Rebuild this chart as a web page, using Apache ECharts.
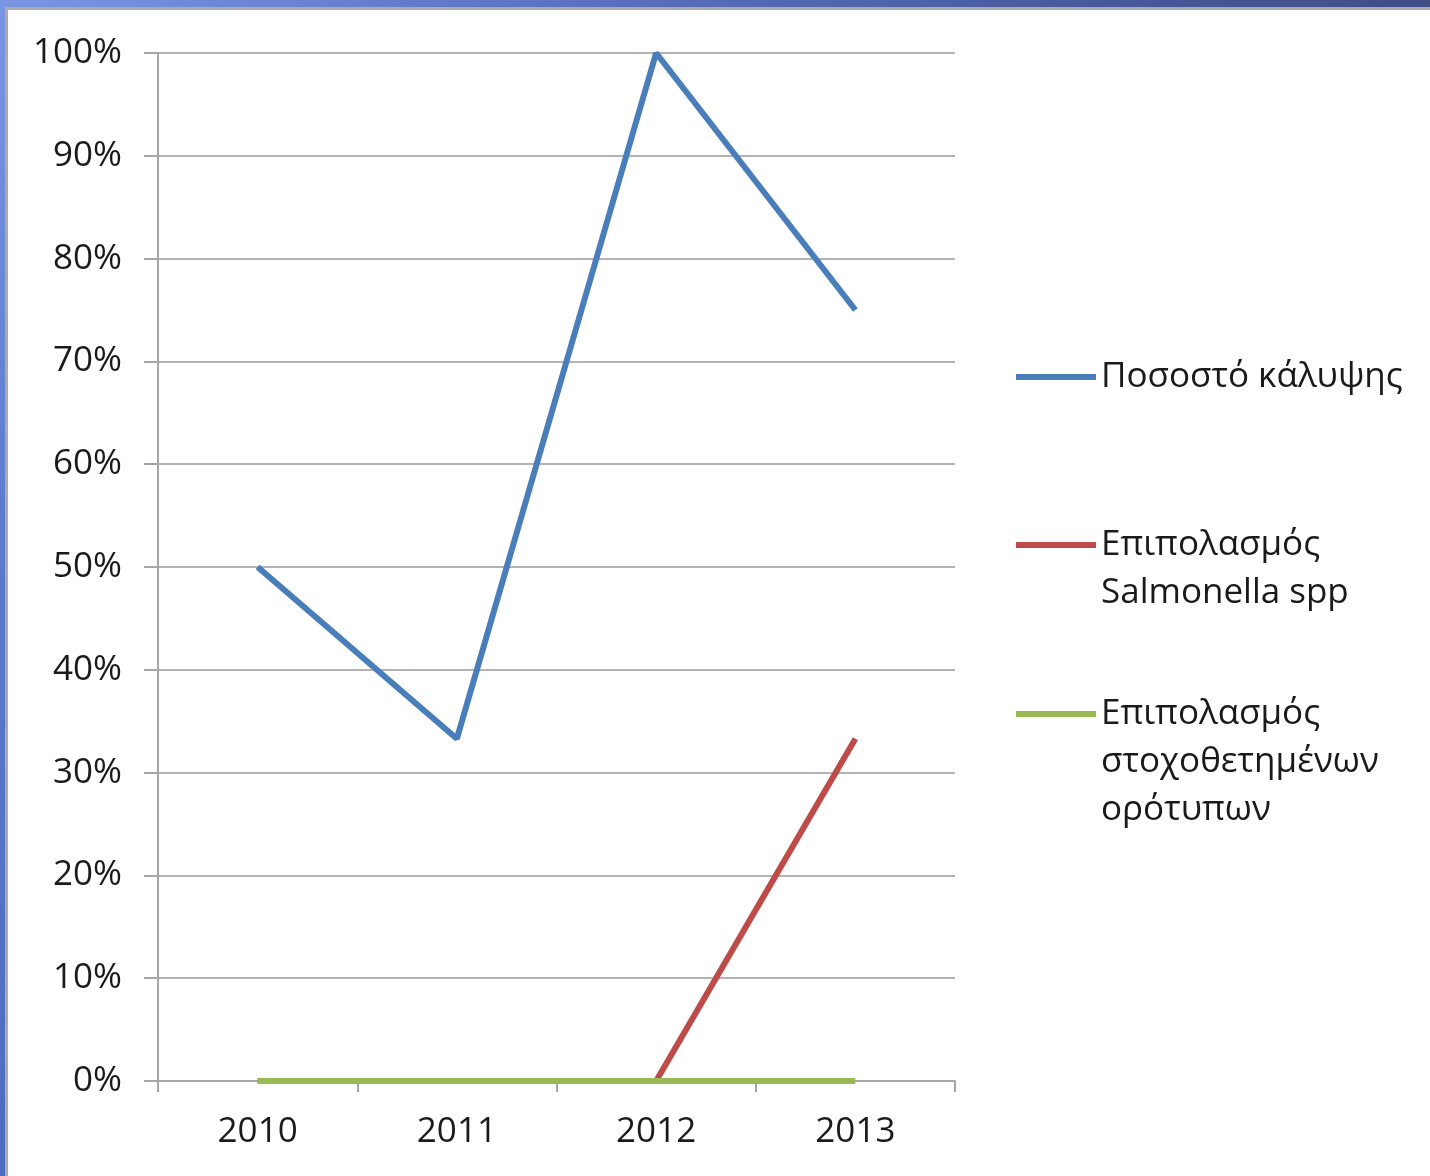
<!DOCTYPE html>
<html>
<head>
<meta charset="utf-8">
<script src="https://cdn.jsdelivr.net/npm/echarts@6/dist/echarts.min.js"></script>
<style>
  html, body { margin: 0; padding: 0; background: #ffffff; }
  #frame-top { position: absolute; left: 0; top: 0; width: 1430px; height: 7px;
    background: linear-gradient(to right, #7a96e2, #5a72c0 40%, #45579a 80%, #3f4f86); }
  #frame-top-edge { position: absolute; left: 5px; top: 7px; width: 1425px; height: 3px; background: #aaaaaa; }
  #frame-left { position: absolute; left: 0; top: 0; width: 5px; height: 1176px;
    background: linear-gradient(to bottom, #7a96e2, #5a78cc 50%, #4f6cc0); }
  #frame-left-edge { position: absolute; left: 5px; top: 7px; width: 3px; height: 1169px; background: #aaaaaa; }
  #chart { position: absolute; left: 0; top: 0; width: 1430px; height: 1176px; }
</style>
</head>
<body>
<div id="frame-top"></div>
<div id="frame-left"></div>
<div id="frame-top-edge"></div>
<div id="frame-left-edge"></div>
<div id="chart"></div>
<script>
// Years on the category axis
const years = ['2010', '2011', '2012', '2013'];

// Series names and values (percent)
const seriesNames = [
  'Ποσοστό κάλυψης',
  'Επιπολασμός Salmonella spp',
  'Επιπολασμός στοχοθετημένων ορότυπων'
];
const coverage = [50, 33.3, 100, 75];
const salmonella = [0, 0, 0, 33.3];
const targetSerotypes = [0, 0, 0, 0];

// Legend text, one entry per line
const legendLines = [
  ['Ποσοστό κάλυψης'],
  ['Επιπολασμός', 'Salmonella spp'],
  ['Επιπολασμός', 'στοχοθετημένων', 'ορότυπων']
];

const colors = ['#4a7ebb', '#be4b48', '#98b954'];
const FONT = '"Open Sans", "Noto Sans", sans-serif';
const FONT_SIZE = 35;
const LINE_H = 48;

// Pad multi-line legend text so the marker sits beside the first line
function legendText(lines) {
  const pad = new Array(lines.length - 1).fill('').join('\n');
  return (lines.length > 1 ? pad + '\n' : '') + lines.join('\n');
}

const legendTops = [353, 473, 594];
const legends = seriesNames.map((name, i) => ({
  data: [name],
  orient: 'vertical',
  left: 1016,
  top: legendTops[i],
  padding: 0,
  icon: 'rect',
  itemWidth: 80,
  itemHeight: 6,
  selectedMode: false,
  formatter: () => legendText(legendLines[i]),
  textStyle: { fontFamily: FONT, fontSize: FONT_SIZE, color: '#1a1a1a', lineHeight: LINE_H }
}));

const chart = echarts.init(document.getElementById('chart'), null, { renderer: 'canvas' });
chart.setOption({
  backgroundColor: 'transparent',
  animation: false,
  color: colors,
  grid: { left: 158, right: 475, top: 53, bottom: 95, containLabel: false },
  legend: legends,
  xAxis: {
    type: 'category',
    data: years,
    boundaryGap: true,
    axisLine: { lineStyle: { color: '#a6a6a6', width: 2 } },
    axisTick: { show: true, length: 11, lineStyle: { color: '#a6a6a6', width: 2 } },
    axisLabel: { margin: 34, fontFamily: FONT, fontSize: FONT_SIZE, color: '#1a1a1a' },
    splitLine: { show: false }
  },
  yAxis: {
    type: 'value',
    min: 0,
    max: 100,
    interval: 10,
    axisLine: { show: true, lineStyle: { color: '#a6a6a6', width: 2 } },
    axisTick: { show: true, length: 14, lineStyle: { color: '#a6a6a6', width: 2 } },
    axisLabel: { margin: 36, formatter: '{value}%', fontFamily: FONT, fontSize: FONT_SIZE, color: '#1a1a1a' },
    splitLine: { show: true, lineStyle: { color: '#b3b3b3', width: 2 } }
  },
  series: [coverage, salmonella, targetSerotypes].map((data, i) => ({
    name: seriesNames[i],
    type: 'line',
    data: data,
    symbol: 'none',
    lineStyle: { width: 6, color: colors[i] },
    itemStyle: { color: colors[i] },
    clip: false
  }))
});
</script>
</body>
</html>
